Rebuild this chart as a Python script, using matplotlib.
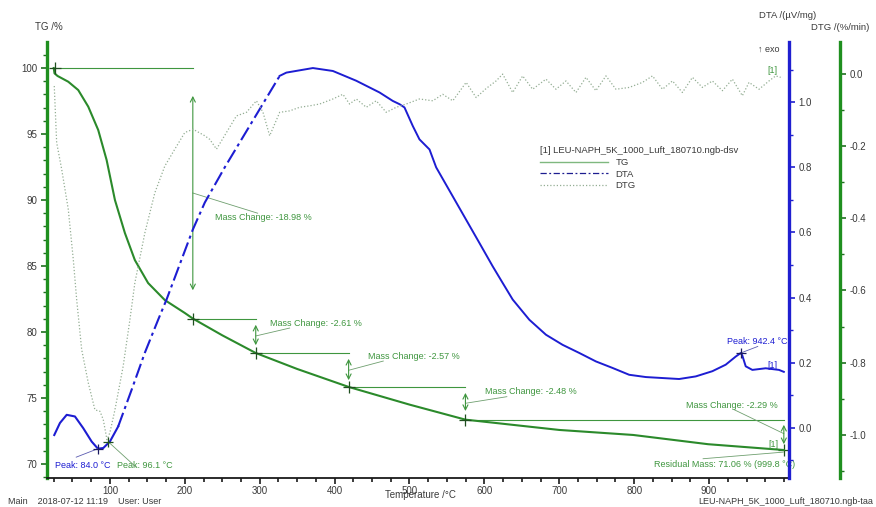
import matplotlib
matplotlib.use("Agg")
import matplotlib.pyplot as plt
from matplotlib.lines import Line2D
from matplotlib.ticker import MultipleLocator

plt.rcParams['font.family'] = ['Liberation Sans', 'DejaVu Sans']

# TG curve (temperature /°C, mass /%)
tg_t = [25, 26, 30, 44.4, 57.7, 71.1, 84.4, 95.6, 106.7, 120, 133.3, 151, 173.3, 200,
        210.7, 250, 294.7, 350, 418.7, 500, 574.7, 700, 798.7, 898.7, 999.8]
tg_v = [100, 99.6, 99.4, 98.96, 98.33, 97.07, 95.3, 93.03, 90.0, 87.5, 85.45, 83.71, 82.42, 81.44,
        81.02, 79.75, 78.41, 77.2, 75.84, 74.5, 73.36, 72.58, 72.2, 71.5, 71.06]

# DTA curve (µV/mg)
dta_t = [25.7, 33.3, 42.3, 53.3, 64.4, 75.6, 84.0, 91.1, 100, 111, 129, 146.7, 164.4, 175.6,
         210.7, 226.7, 253.3, 326.7, 335.6, 371, 397.7, 428.9, 460, 477.7, 486.7, 493.3, 504.4,
         513.3, 526.7, 535.6, 593.3, 611.1, 624.4, 637.8, 660, 682.2, 704.4, 726.7, 748.9, 771.1,
         793.3, 815.6, 837.8, 860, 882.2, 904.4, 922.2, 935.6, 942.4, 944.4, 948.9, 957.8, 975.6,
         993.3, 999.8]
dta_v = [-0.022, 0.015, 0.040, 0.035, -0.001, -0.042, -0.064, -0.062, -0.042, 0.004, 0.117, 0.231,
         0.332, 0.394, 0.609, 0.692, 0.8, 1.081, 1.091, 1.105, 1.096, 1.066, 1.030, 1.004, 0.994,
         0.984, 0.927, 0.886, 0.855, 0.8, 0.568, 0.496, 0.445, 0.394, 0.332, 0.286, 0.255, 0.230,
         0.204, 0.184, 0.163, 0.156, 0.153, 0.150, 0.158, 0.174, 0.194, 0.219, 0.230, 0.222, 0.189,
         0.178, 0.183, 0.178, 0.172]

# DTG curve (%/min)
dtg_t = [25.7, 28.9, 35.6, 44.4, 51.1, 55.6, 62.3, 71.1, 80, 86.7, 91.1, 96.1, 100, 106.7, 117.7,
         126.7, 133.3, 146.7, 160, 173.3, 186.7, 200, 211.1, 226.7, 233.3, 242.3, 255.6, 268.9,
         282.3, 295.6, 304.4, 313.3, 326.7, 340, 353.3, 366.7, 380, 397.7, 411.1, 420, 429, 442.3,
         455.6, 469, 482.3, 495.6, 513.3, 531.1, 544.4, 557.8, 575.6, 589, 602.3, 615.6, 624.4,
         637.8, 651.1, 664.4, 682.2, 695.6, 708.9, 722.3, 735.6, 748.9, 762.3, 775.6, 793.3, 811.1,
         824.4, 837.8, 851.1, 864.4, 877.8, 891.1, 904.4, 917.8, 931.1, 944.4, 953.3, 966.7, 980,
         988.9, 995.6]
dtg_v = [-0.033, -0.190, -0.264, -0.375, -0.514, -0.625, -0.764, -0.856, -0.931, -0.935, -0.958,
         -1.014, -0.994, -0.931, -0.810, -0.681, -0.579, -0.440, -0.329, -0.255, -0.208, -0.162,
         -0.153, -0.171, -0.181, -0.208, -0.162, -0.116, -0.106, -0.074, -0.106, -0.171, -0.106,
         -0.102, -0.092, -0.088, -0.083, -0.069, -0.056, -0.083, -0.069, -0.092, -0.074, -0.106,
         -0.092, -0.083, -0.069, -0.074, -0.056, -0.074, -0.023, -0.065, -0.040, -0.019, 0.0,
         -0.051, -0.005, -0.042, -0.014, -0.042, -0.019, -0.051, -0.009, -0.046, -0.005, -0.042,
         -0.037, -0.023, -0.005, -0.042, -0.019, -0.051, -0.009, -0.037, -0.019, -0.046, -0.014,
         -0.060, -0.023, -0.042, -0.019, -0.005, -0.009]

# mass change steps
steps_t = [26.7, 210.7, 294.7, 418.7, 574.7, 999.8]
steps_v = [100, 81.02, 78.41, 75.84, 73.36, 71.06]
step_labels = ['Mass Change: -18.98 %', 'Mass Change: -2.61 %', 'Mass Change: -2.57 %',
               'Mass Change: -2.48 %', 'Mass Change: -2.29 %']

c_tg = '#2b8a2b'
c_ann = '#3f963f'
c_dta = '#1d1dd2'
c_dtg = '#94ae94'
c_tick = '#3a3a3a'

fig = plt.figure(figsize=(8.76, 5.07), dpi=100)
ax = fig.add_axes([47/876, 1-478/507, (789-47)/876, (478-42)/507])
ax2 = ax.twinx()
ax3 = ax.twinx()

ax.set_xlim(16, 1006.7)
ax.set_ylim(68.94, 101.97)
ax2.set_ylim(-0.154, 1.185)
ax3.set_ylim(-1.12, 0.089)

# curves
ax.plot(tg_t, tg_v, color=c_tg, lw=1.5, zorder=3)
ax2.plot(dta_t[:10], dta_v[:10], color=c_dta, lw=1.5)
ax2.plot(dta_t[9:18], dta_v[9:18], color=c_dta, lw=1.5, dashes=(7, 2, 1.5, 2))
ax2.plot(dta_t[17:], dta_v[17:], color=c_dta, lw=1.4)
ax3.plot(dtg_t, dtg_v, color=c_dtg, lw=0.9, ls=(0, (1, 1.6)))

# mass change annotations
ax.plot([steps_t[0], steps_t[1]], [steps_v[0], steps_v[0]], color=c_ann, lw=0.8)
for i in range(1, 5):
    ax.plot([steps_t[i], steps_t[i+1]], [steps_v[i], steps_v[i]], color=c_ann, lw=0.8)
ax.plot(steps_t[:5], steps_v[:5], ls='none', marker='+', ms=9, mew=0.9, color='#1f4f1f', zorder=5)
arrows = [(210.7, 98.1, 82.95), (294.7, 80.76, 78.79), (418.7, 78.18, 76.14),
          (574.7, 75.6, 73.8), (999.8, 73.18, 71.29)]
for x, y0, y1 in arrows:
    ax.annotate('', xy=(x, y1), xytext=(x, y0),
                arrowprops=dict(arrowstyle='<->', color=c_ann, lw=0.8, mutation_scale=9))
text_pos = [(240, 88.64), (313.3, 80.68), (444, 78.18), (601.3, 75.53), (869.3, 74.47)]
leaders = [((210.7, 90.53), (297.3, 89.0)), ((294.7, 79.7), (340, 80.3)),
           ((418.7, 77.1), (465, 77.8)), ((574.7, 74.6), (630, 75.1)),
           ((934, 74.1), (999.8, 72.3))]
for (tx, ty), lab, (p0, p1) in zip(text_pos, step_labels, leaders):
    ax.text(tx, ty, lab, color=c_ann, fontsize=6.5, va='center', ha='left')
    ax.plot([p0[0], p1[0]], [p0[1], p1[1]], color='#6f9f6f', lw=0.6)

ax.text(826.7, 70.0, 'Residual Mass: 71.06 % (999.8 °C)', color=c_ann, fontsize=6.5,
        va='center', ha='left')
ax.plot([892, 999], [70.4, 70.9], color='#6f9f6f', lw=0.6)
ax.plot([999.8], [71.06], marker='+', ms=9, mew=0.9, color='#1f4f1f')
ax.text(985.3, 71.5, '[1]', color=c_ann, fontsize=6.5, ha='center', va='center')

# peaks
ax.text(26.7, 69.92, 'Peak: 84.0 °C', color=c_dta, fontsize=6.5, va='center', ha='left')
ax.text(109.3, 69.92, 'Peak: 96.1 °C', color=c_ann, fontsize=6.5, va='center', ha='left')
ax2.plot([55, 84.0], [-0.09, -0.064], color='#5a5ab0', lw=0.6)
ax2.plot([84.0], [-0.064], marker='+', ms=7, mew=0.9, color='#1a1a60')
ax3.plot([135, 98], [-1.09, -1.02], color='#6f9f6f', lw=0.6)
ax3.plot([98], [-1.02], marker='+', ms=7, mew=0.9, color='#1f4f1f')
ax2.text(924, 0.265, 'Peak: 942.4 °C', color=c_dta, fontsize=6.5, va='center', ha='left')
ax2.plot([942.4, 965], [0.230, 0.25], color='#5a5ab0', lw=0.6)
ax2.plot([942.4], [0.230], marker='+', ms=7, mew=0.9, color='#1a1a60')
ax2.text(984, 0.19, '[1]', color=c_dta, fontsize=6.5, ha='center', va='center')
ax3.text(984, 0.01, '[1]', color=c_ann, fontsize=6.5, ha='center', va='center')

# spines and ticks
for a in (ax, ax2, ax3):
    for s in a.spines.values():
        s.set_visible(False)
ax.spines['left'].set_visible(True)
ax.spines['left'].set_color('#1f8f1f')
ax.spines['left'].set_linewidth(2.4)
ax.spines['bottom'].set_visible(True)
ax.spines['bottom'].set_color('#1a1a1a')
ax.spines['bottom'].set_linewidth(1.3)
ax2.spines['right'].set_visible(True)
ax2.spines['right'].set_color('#1f1fd0')
ax2.spines['right'].set_linewidth(2.4)
ax3.spines['right'].set_visible(True)
ax3.spines['right'].set_position(('outward', 51 * 0.72))
ax3.spines['right'].set_color('#1f8f1f')
ax3.spines['right'].set_linewidth(2.4)

ax.xaxis.set_minor_locator(MultipleLocator(25))
ax.yaxis.set_major_locator(MultipleLocator(5))
ax.yaxis.set_minor_locator(MultipleLocator(1))
ax2.yaxis.set_minor_locator(MultipleLocator(0.1))
ax3.yaxis.set_minor_locator(MultipleLocator(0.1))
ax.set_xticks([100, 200, 300, 400, 500, 600, 700, 800, 900])
ax.set_xticklabels(['100', '200', '300', '400', '500', '600', '700', '800', '900'])
ax2.set_yticks([0.0, 0.2, 0.4, 0.6, 0.8, 1.0])
ax2.set_yticklabels(['0.0', '0.2', '0.4', '0.6', '0.8', '1.0'])
ax3.set_yticks([-1.0, -0.8, -0.6, -0.4, -0.2, 0.0])
ax3.set_yticklabels(['-1.0', '-0.8', '-0.6', '-0.4', '-0.2', '0.0'])

ax.tick_params(axis='x', which='major', length=4, width=1.2, color='#1a1a1a',
               labelsize=7, labelcolor=c_tick, pad=1.5)
ax.tick_params(axis='x', which='minor', length=3, width=1.2, color='#1a1a1a')
ax.tick_params(axis='y', which='major', length=4, width=1.2, color='#1f6f1f',
               labelsize=7, labelcolor=c_tick, pad=3)
ax.tick_params(axis='y', which='minor', length=3, width=1.0, color='#1f6f1f')
ax2.tick_params(axis='y', which='major', length=4, width=1.2, color='#1f1fd0',
                labelsize=7, labelcolor=c_tick, pad=3)
ax2.tick_params(axis='y', which='minor', length=3, width=1.0, color='#1f1fd0')
ax3.tick_params(axis='y', which='major', length=4, width=1.2, color='#1f6f1f',
                labelsize=7, labelcolor=c_tick, pad=3)
ax3.tick_params(axis='y', which='minor', length=3, width=1.0, color='#1f6f1f')

# legend
handles = [Line2D([], [], color='#7fb87f', lw=1.0),
           Line2D([], [], color='#1d1d90', lw=0.9, dashes=(5, 2, 1.5, 2)),
           Line2D([], [], color=c_dtg, lw=0.9, ls=(0, (1, 1.6)))]
leg = ax.legend(handles, ['TG', 'DTA', 'DTG'], title='[1] LEU-NAPH_5K_1000_Luft_180710.ngb-dsv',
                loc='upper left', bbox_to_anchor=(540/876, 1-146/507),
                bbox_transform=fig.transFigure, frameon=False, fontsize=6.8,
                title_fontsize=6.8, alignment='left', handlelength=7.2, handletextpad=0.8,
                labelspacing=0.3, borderpad=0, borderaxespad=0)
for t in leg.get_texts():
    t.set_color(c_tick)
leg.get_title().set_color(c_tick)

# axis titles and footer
fig.text(35/876, 1-27/507, 'TG /%', fontsize=7, color=c_tick, va='center', ha='left')
fig.text(788/876, 1-15/507, 'DTA /(µV/mg)', fontsize=6.8, color=c_tick, va='center', ha='center')
fig.text(840/876, 1-28/507, 'DTG /(%/min)', fontsize=6.8, color=c_tick, va='center', ha='center')
fig.text(779/876, 1-49/507, '↑ exo', fontsize=6.5, color=c_tick, va='center', ha='right')
fig.text(420/876, 1-495/507, 'Temperature /°C', fontsize=7, color=c_tick, va='center', ha='center')
fig.text(8/876, 1-501/507, 'Main    2018-07-12 11:19    User: User', fontsize=6.5,
         color=c_tick, va='center', ha='left')
fig.text(873/876, 1-501/507, 'LEU-NAPH_5K_1000_Luft_180710.ngb-taa', fontsize=6.5,
         color=c_tick, va='center', ha='right')

fig.savefig('out.png', dpi=100)
